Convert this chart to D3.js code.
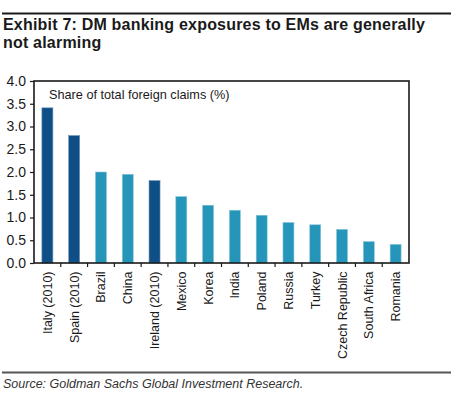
<!DOCTYPE html>
<html>
<head>
<meta charset="utf-8">
<script src="https://cdn.jsdelivr.net/npm/d3@7"></script>
<style>
  html, body { margin: 0; padding: 0; background: #fff; }
  svg { display: block; }
  text { font-family: "Liberation Sans", Arial, sans-serif; }
</style>
</head>
<body>
<svg id="chart" width="460" height="400"></svg>
<script>
const categories = ["Italy (2010)", "Spain (2010)", "Brazil", "China", "Ireland (2010)", "Mexico", "Korea", "India", "Poland", "Russia", "Turkey", "Czech Republic", "South Africa", "Romania"];
const values = [3.41, 2.80, 2.00, 1.95, 1.81, 1.46, 1.27, 1.16, 1.05, 0.89, 0.84, 0.74, 0.47, 0.41];
const isDM = [true, true, false, false, true, false, false, false, false, false, false, false, false, false];
const yTicks = [0, 0.5, 1.0, 1.5, 2.0, 2.5, 3.0, 3.5, 4.0];
const titleLines = ["Exhibit 7: DM banking exposures to EMs are generally", "not alarming"];
const seriesLabel = "Share of total foreign claims (%)";
const sourceText = "Source: Goldman Sachs Global Investment Research.";

const svg = d3.select("#chart");
const plot = { left: 34, right: 409, top: 81, bottom: 263 };

// top rule
svg.append("line").attr("x1", 2).attr("x2", 451).attr("y1", 13.5).attr("y2", 13.5)
  .attr("stroke", "#1a1a1a").attr("stroke-width", 2);

// title
svg.append("g").selectAll("text").data(titleLines).join("text")
  .attr("x", 3).attr("y", (d, i) => 29.5 + i * 18.5)
  .attr("font-size", "16px").attr("font-weight", "bold").attr("fill", "#1a1a1a")
  .attr("letter-spacing", "0.2px")
  .text(d => d);

const x = d3.scaleBand().domain(categories).range([plot.left, plot.right]).paddingInner(0.59).paddingOuter(0.295);
const y = d3.scaleLinear().domain([0, 4]).range([plot.bottom, plot.top]);

// bars
svg.append("g").selectAll("rect").data(categories).join("rect")
  .attr("x", d => x(d))
  .attr("width", x.bandwidth())
  .attr("y", (d, i) => y(values[i]))
  .attr("height", (d, i) => y(0) - y(values[i]))
  .attr("fill", (d, i) => isDM[i] ? "#0f4f86" : "#2596ba")
  .attr("stroke", (d, i) => isDM[i] ? "#6a8fb3" : "#8cc6da")
  .attr("stroke-width", 0.6);

// frame
svg.append("rect").attr("x", plot.left).attr("y", plot.top)
  .attr("width", plot.right - plot.left).attr("height", plot.bottom - plot.top)
  .attr("fill", "none").attr("stroke", "#1a1a1a").attr("stroke-width", 1.6);

// y axis
const yAxis = d3.axisLeft(y).tickValues(yTicks).tickFormat(d3.format(".1f")).tickSize(4).tickPadding(4);
const gy = svg.append("g").attr("transform", `translate(${plot.left},0)`).call(yAxis);
gy.select(".domain").remove();
gy.selectAll("line").attr("stroke", "#1a1a1a").attr("stroke-width", 1.2);
gy.selectAll("text").attr("font-size", "14px").attr("fill", "#1a1a1a")
  .attr("font-family", "'Liberation Sans', Arial, sans-serif");

// x axis ticks at category boundaries
const boundaries = d3.range(1, categories.length).map(i => plot.left + i * (plot.right - plot.left) / categories.length);
svg.append("g").selectAll("line").data(boundaries).join("line")
  .attr("x1", d => d).attr("x2", d => d)
  .attr("y1", plot.bottom).attr("y2", plot.bottom + 4)
  .attr("stroke", "#1a1a1a").attr("stroke-width", 1.2);

// x labels rotated
svg.append("g").selectAll("text").data(categories).join("text")
  .attr("transform", d => `translate(${x(d) + x.bandwidth() / 2 + 4.5},271.5) rotate(-90)`)
  .attr("text-anchor", "end")
  .attr("font-size", "12.5px").attr("fill", "#1a1a1a")
  .text(d => d);

// series label
svg.append("text").attr("x", 49).attr("y", 99)
  .attr("font-size", "12.7px").attr("fill", "#1a1a1a").text(seriesLabel);

// bottom rule
svg.append("line").attr("x1", 2).attr("x2", 451).attr("y1", 372.5).attr("y2", 372.5)
  .attr("stroke", "#555").attr("stroke-width", 2);

// source
svg.append("text").attr("x", 3).attr("y", 388)
  .attr("font-size", "12.5px").attr("font-style", "italic").attr("fill", "#333")
  .text(sourceText);
</script>
</body>
</html>
